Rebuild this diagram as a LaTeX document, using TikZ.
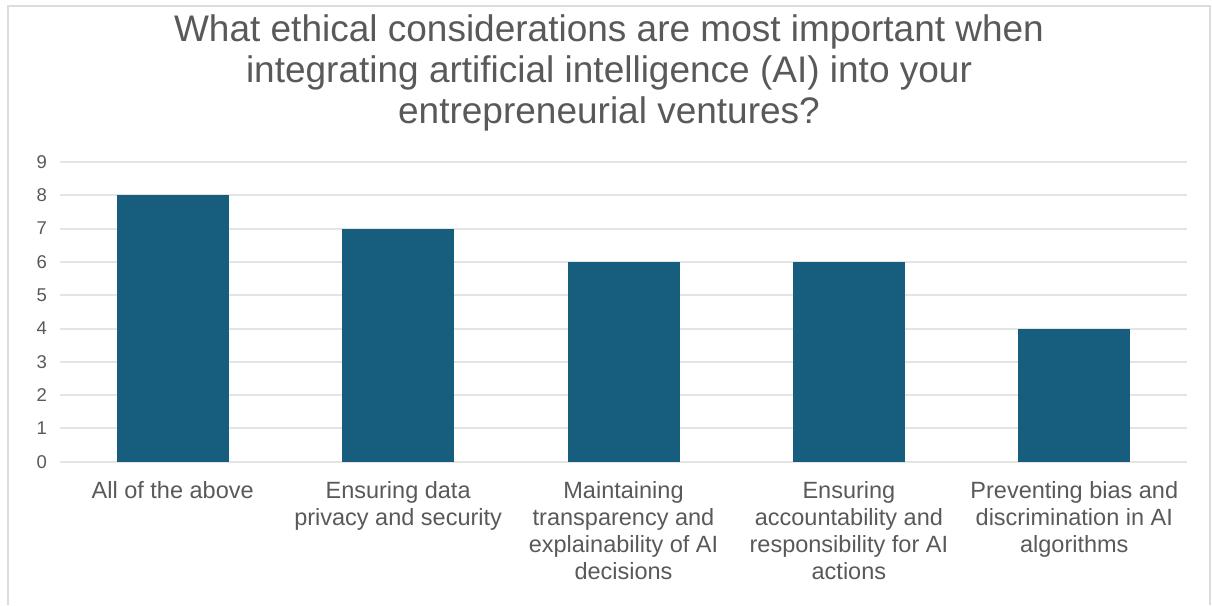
\documentclass[tikz,border=0pt]{standalone}
\usepackage{fontspec}
\setmainfont{Liberation Sans}
\definecolor{barblue}{HTML}{175E7E}
\definecolor{gridgray}{HTML}{E4E4E4}
\definecolor{framegray}{HTML}{DCDCDC}
\definecolor{textgray}{HTML}{595959}
\tikzset{
  ticklabel/.style={anchor=east,inner sep=0pt,text=textgray,font=\fontsize{18.5}{20}\selectfont},
  catlabel/.style={anchor=north,inner sep=0pt,align=center,text=textgray,font=\fontsize{23.5}{27}\selectfont},
}
\begin{document}
\begin{tikzpicture}[x=1pt,y=-1pt]
\useasboundingbox (0,0) rectangle (1212,605);
% frame of the chart
\draw[framegray,line width=1.5pt] (8,605) -- (8,6) -- (1210,6) -- (1210,605);
% title
\node[anchor=north,inner sep=0pt,align=center,text=textgray,font=\fontsize{37}{41}\selectfont] (title) at (609,14)
  {What ethical considerations are most important when\\integrating artificial intelligence (AI) into your\\entrepreneurial ventures?};
% grid and axis labels
\foreach \v in {0,...,9}{
  \draw[gridgray,line width=2pt] (60,{461.7-33.3*\v}) -- (1187,{461.7-33.3*\v});
  \node[ticklabel] (tick\v) at (47,{461.7-33.3*\v}) {\v};
}
% bars
\foreach \h [count=\i from 0] in {8,7,6,6,4}
  \fill[barblue] ({116.7+225.4*\i},461.7) rectangle ++(112,{-33.3*\h});
% category labels
\node[catlabel] (cat1) at (172.7,481) {All of the above};
\node[catlabel] (cat2) at (398.1,481) {Ensuring data\\privacy and security};
\node[catlabel] (cat3) at (623.5,481) {Maintaining\\transparency and\\explainability of AI\\decisions};
\node[catlabel] (cat4) at (848.9,481) {Ensuring\\accountability and\\responsibility for AI\\actions};
\node[catlabel] (cat5) at (1074.3,481) {Preventing bias and\\discrimination in AI\\algorithms};
\end{tikzpicture}
\end{document}
